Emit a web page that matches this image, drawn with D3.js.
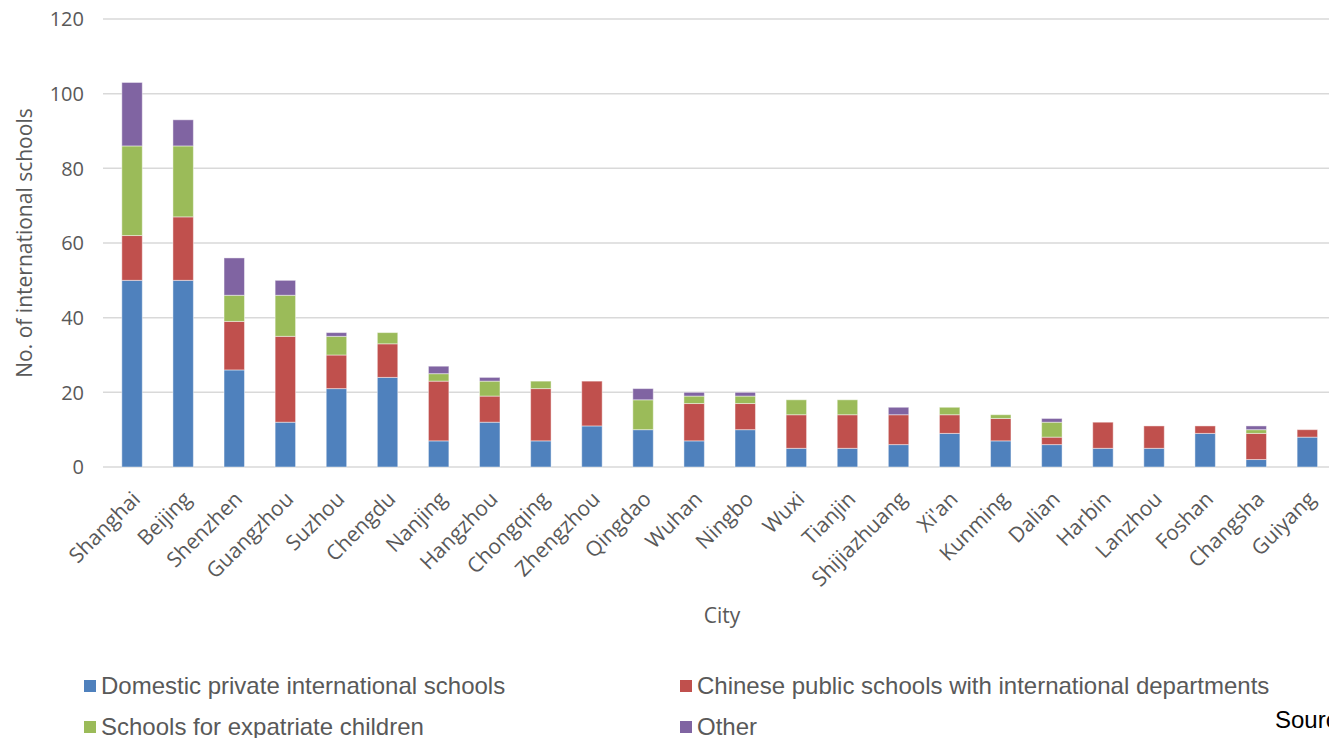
<!DOCTYPE html>
<html>
<head>
<meta charset="utf-8">
<script src="https://cdn.jsdelivr.net/npm/d3@7"></script>
<style>
  body { margin: 0; background: #fff; overflow: hidden; }
  svg { display: block; }
</style>
</head>
<body>
<div id="chart"></div>
<script>
// Data
const cities = ["Shanghai", "Beijing", "Shenzhen", "Guangzhou", "Suzhou", "Chengdu", "Nanjing",
  "Hangzhou", "Chongqing", "Zhengzhou", "Qingdao", "Wuhan", "Ningbo", "Wuxi", "Tianjin",
  "Shijiazhuang", "Xi'an", "Kunming", "Dalian", "Harbin", "Lanzhou", "Foshan", "Changsha", "Guiyang"];
const domestic = [50, 50, 26, 12, 21, 24, 7, 12, 7, 11, 10, 7, 10, 5, 5, 6, 9, 7, 6, 5, 5, 9, 2, 8];
const publicIntl = [12, 17, 13, 23, 9, 9, 16, 7, 14, 12, 0, 10, 7, 9, 9, 8, 5, 6, 2, 7, 6, 2, 7, 2];
const expatriate = [24, 19, 7, 11, 5, 3, 2, 4, 2, 0, 8, 2, 2, 4, 4, 0, 2, 1, 4, 0, 0, 0, 1, 0];
const other = [17, 7, 10, 4, 1, 0, 2, 1, 0, 0, 3, 1, 1, 0, 0, 2, 0, 0, 1, 0, 0, 0, 1, 0];
const seriesNames = ["Domestic private international schools", "Chinese public schools with international departments",
  "Schools for expatriate children", "Other"];
const colors = ["#4F81BD", "#C0504D", "#9BBB59", "#8064A2"];
const yTicks = [0, 20, 40, 60, 80, 100, 120];

const width = 1329, height = 738;
const marginLeft = 106.5, plotTop = 19, plotBottom = 467;
const step = 51.1;

const svg = d3.select("#chart").append("svg")
  .attr("width", width).attr("height", height);

const rows = cities.map((c, i) => ({
  city: c, s0: domestic[i], s1: publicIntl[i], s2: expatriate[i], s3: other[i]
}));
const stack = d3.stack().keys(["s0", "s1", "s2", "s3"])(rows);

const x = d3.scaleBand()
  .domain(cities)
  .range([marginLeft, marginLeft + step * cities.length])
  .paddingInner(0.6).paddingOuter(0.3);
const y = d3.scaleLinear().domain([0, 120]).range([plotBottom, plotTop]);

// gridlines
svg.append("g").selectAll("line").data(yTicks).join("line")
  .attr("x1", 103).attr("x2", width)
  .attr("y1", d => y(d)).attr("y2", d => y(d))
  .attr("stroke", "#d9d9d9").attr("stroke-width", 1.5);

// y tick labels
svg.append("g").selectAll("text").data(yTicks).join("text")
  .attr("x", 84).attr("y", d => y(d)).attr("dy", "0.36em")
  .attr("text-anchor", "end")
  .attr("font-family", "Open Sans").attr("font-size", 20).attr("fill", "#595959")
  .text(d => d);

// bars
svg.append("g").selectAll("g").data(stack).join("g")
  .attr("fill", (d, i) => colors[i])
  .selectAll("rect").data(d => d.filter(p => p[1] > p[0])).join("rect")
  .attr("x", d => x(d.data.city))
  .attr("width", x.bandwidth())
  .attr("y", d => y(d[1]))
  .attr("height", d => y(d[0]) - y(d[1]))
  .attr("stroke", "#fff").attr("stroke-opacity", 0.45).attr("stroke-width", 1);

// x labels
svg.append("g").selectAll("text").data(x.domain()).join("text")
  .attr("transform", d => `translate(${x(d) + x.bandwidth() / 2 - 1},${plotBottom + 23}) rotate(-45)`)
  .attr("text-anchor", "end").attr("dy", "0.7em")
  .attr("font-family", "Open Sans").attr("font-size", 21).attr("fill", "#595959")
  .text(d => d);

// axis titles
svg.append("text").attr("x", 722).attr("y", 623).attr("text-anchor", "middle")
  .attr("font-family", "Open Sans").attr("font-size", 21).attr("fill", "#595959").text("City");
svg.append("text").attr("transform", "translate(32,243) rotate(-90)").attr("text-anchor", "middle")
  .attr("font-family", "Open Sans").attr("font-size", 21).attr("fill", "#595959")
  .text("No. of international schools");

// legend
const legendPos = [[84, 680], [680, 680], [84, 721], [680, 721]];
const legend = svg.append("g").selectAll("g").data(seriesNames).join("g")
  .attr("transform", (d, i) => `translate(${legendPos[i][0]},${legendPos[i][1]})`);
legend.append("rect").attr("width", 12).attr("height", 12).attr("fill", (d, i) => colors[i]);
legend.append("text").attr("x", 17).attr("y", 14)
  .attr("font-family", "Liberation Sans").attr("font-size", 24).attr("fill", "#595959")
  .text(d => d);

svg.append("text").attr("x", 1275).attr("y", 728)
  .attr("font-family", "Liberation Sans").attr("font-size", 24).attr("fill", "#000")
  .text("Source");
</script>
</body>
</html>
